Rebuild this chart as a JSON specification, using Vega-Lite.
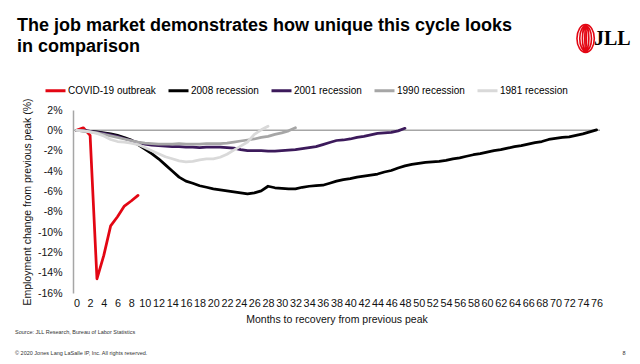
{
  "$schema": "https://vega.github.io/schema/vega-lite/v6.json",
  "width": 527,
  "height": 183,
  "autosize": {"type": "none"},
  "padding": {"left": 73, "top": 110, "right": 40, "bottom": 71},
  "background": "white",
  "config": {
    "view": {"stroke": null},
    "font": "Liberation Sans",
    "axis": {"labelOverlap": false, "labelBound": false, "labelFlush": false, "ticks": false, "grid": false}
  },
  "title": {
    "text": ["The job market demonstrates how unique this cycle looks", "in comparison"],
    "anchor": "start",
    "frame": "group",
    "dx": -56,
    "dy": 55,
    "offset": 20,
    "fontSize": 18,
    "fontWeight": "bold",
    "font": "Liberation Sans",
    "lineHeight": 21,
    "color": "#000000"
  },
  "datasets": {
    "jobs": [
      {"s": "COVID-19 outbreak", "m": 0, "v": 0},
      {"s": "COVID-19 outbreak", "m": 1, "v": 0.25},
      {"s": "COVID-19 outbreak", "m": 2, "v": -0.5},
      {"s": "COVID-19 outbreak", "m": 3, "v": -14.6},
      {"s": "COVID-19 outbreak", "m": 4, "v": -12.3},
      {"s": "COVID-19 outbreak", "m": 5, "v": -9.4},
      {"s": "COVID-19 outbreak", "m": 6, "v": -8.5},
      {"s": "COVID-19 outbreak", "m": 7, "v": -7.45},
      {"s": "COVID-19 outbreak", "m": 8, "v": -6.95},
      {"s": "COVID-19 outbreak", "m": 9, "v": -6.4},

      {"s": "2008 recession", "m": 0, "v": 0},
      {"s": "2008 recession", "m": 1, "v": -0.05},
      {"s": "2008 recession", "m": 2, "v": -0.1},
      {"s": "2008 recession", "m": 3, "v": -0.15},
      {"s": "2008 recession", "m": 4, "v": -0.25},
      {"s": "2008 recession", "m": 5, "v": -0.35},
      {"s": "2008 recession", "m": 6, "v": -0.5},
      {"s": "2008 recession", "m": 7, "v": -0.7},
      {"s": "2008 recession", "m": 8, "v": -0.95},
      {"s": "2008 recession", "m": 9, "v": -1.4},
      {"s": "2008 recession", "m": 10, "v": -1.85},
      {"s": "2008 recession", "m": 11, "v": -2.3},
      {"s": "2008 recession", "m": 12, "v": -2.8},
      {"s": "2008 recession", "m": 13, "v": -3.4},
      {"s": "2008 recession", "m": 14, "v": -4.0},
      {"s": "2008 recession", "m": 15, "v": -4.6},
      {"s": "2008 recession", "m": 16, "v": -5.0},
      {"s": "2008 recession", "m": 17, "v": -5.2},
      {"s": "2008 recession", "m": 18, "v": -5.45},
      {"s": "2008 recession", "m": 19, "v": -5.6},
      {"s": "2008 recession", "m": 20, "v": -5.75},
      {"s": "2008 recession", "m": 21, "v": -5.85},
      {"s": "2008 recession", "m": 22, "v": -5.95},
      {"s": "2008 recession", "m": 23, "v": -6.05},
      {"s": "2008 recession", "m": 24, "v": -6.15},
      {"s": "2008 recession", "m": 25, "v": -6.25},
      {"s": "2008 recession", "m": 26, "v": -6.15},
      {"s": "2008 recession", "m": 27, "v": -5.95},
      {"s": "2008 recession", "m": 28, "v": -5.5},
      {"s": "2008 recession", "m": 29, "v": -5.65},
      {"s": "2008 recession", "m": 30, "v": -5.7},
      {"s": "2008 recession", "m": 31, "v": -5.75},
      {"s": "2008 recession", "m": 32, "v": -5.75},
      {"s": "2008 recession", "m": 33, "v": -5.6},
      {"s": "2008 recession", "m": 34, "v": -5.5},
      {"s": "2008 recession", "m": 35, "v": -5.45},
      {"s": "2008 recession", "m": 36, "v": -5.4},
      {"s": "2008 recession", "m": 37, "v": -5.2},
      {"s": "2008 recession", "m": 38, "v": -5.0},
      {"s": "2008 recession", "m": 39, "v": -4.85},
      {"s": "2008 recession", "m": 40, "v": -4.75},
      {"s": "2008 recession", "m": 41, "v": -4.6},
      {"s": "2008 recession", "m": 42, "v": -4.5},
      {"s": "2008 recession", "m": 43, "v": -4.4},
      {"s": "2008 recession", "m": 44, "v": -4.3},
      {"s": "2008 recession", "m": 45, "v": -4.1},
      {"s": "2008 recession", "m": 46, "v": -3.95},
      {"s": "2008 recession", "m": 47, "v": -3.7},
      {"s": "2008 recession", "m": 48, "v": -3.5},
      {"s": "2008 recession", "m": 49, "v": -3.35},
      {"s": "2008 recession", "m": 50, "v": -3.25},
      {"s": "2008 recession", "m": 51, "v": -3.15},
      {"s": "2008 recession", "m": 52, "v": -3.1},
      {"s": "2008 recession", "m": 53, "v": -3.05},
      {"s": "2008 recession", "m": 54, "v": -2.95},
      {"s": "2008 recession", "m": 55, "v": -2.8},
      {"s": "2008 recession", "m": 56, "v": -2.7},
      {"s": "2008 recession", "m": 57, "v": -2.55},
      {"s": "2008 recession", "m": 58, "v": -2.4},
      {"s": "2008 recession", "m": 59, "v": -2.3},
      {"s": "2008 recession", "m": 60, "v": -2.15},
      {"s": "2008 recession", "m": 61, "v": -2.0},
      {"s": "2008 recession", "m": 62, "v": -1.9},
      {"s": "2008 recession", "m": 63, "v": -1.75},
      {"s": "2008 recession", "m": 64, "v": -1.6},
      {"s": "2008 recession", "m": 65, "v": -1.5},
      {"s": "2008 recession", "m": 66, "v": -1.35},
      {"s": "2008 recession", "m": 67, "v": -1.2},
      {"s": "2008 recession", "m": 68, "v": -1.1},
      {"s": "2008 recession", "m": 69, "v": -0.9},
      {"s": "2008 recession", "m": 70, "v": -0.8},
      {"s": "2008 recession", "m": 71, "v": -0.7},
      {"s": "2008 recession", "m": 72, "v": -0.65},
      {"s": "2008 recession", "m": 73, "v": -0.5},
      {"s": "2008 recession", "m": 74, "v": -0.35},
      {"s": "2008 recession", "m": 75, "v": -0.15},
      {"s": "2008 recession", "m": 76, "v": 0.05},

      {"s": "2001 recession", "m": 0, "v": 0},
      {"s": "2001 recession", "m": 1, "v": 0},
      {"s": "2001 recession", "m": 2, "v": -0.1},
      {"s": "2001 recession", "m": 3, "v": -0.2},
      {"s": "2001 recession", "m": 4, "v": -0.3},
      {"s": "2001 recession", "m": 5, "v": -0.45},
      {"s": "2001 recession", "m": 6, "v": -0.6},
      {"s": "2001 recession", "m": 7, "v": -0.8},
      {"s": "2001 recession", "m": 8, "v": -1.0},
      {"s": "2001 recession", "m": 9, "v": -1.2},
      {"s": "2001 recession", "m": 10, "v": -1.35},
      {"s": "2001 recession", "m": 11, "v": -1.45},
      {"s": "2001 recession", "m": 12, "v": -1.5},
      {"s": "2001 recession", "m": 13, "v": -1.55},
      {"s": "2001 recession", "m": 14, "v": -1.6},
      {"s": "2001 recession", "m": 15, "v": -1.6},
      {"s": "2001 recession", "m": 16, "v": -1.65},
      {"s": "2001 recession", "m": 17, "v": -1.65},
      {"s": "2001 recession", "m": 18, "v": -1.7},
      {"s": "2001 recession", "m": 19, "v": -1.65},
      {"s": "2001 recession", "m": 20, "v": -1.65},
      {"s": "2001 recession", "m": 21, "v": -1.65},
      {"s": "2001 recession", "m": 22, "v": -1.7},
      {"s": "2001 recession", "m": 23, "v": -1.75},
      {"s": "2001 recession", "m": 24, "v": -1.9},
      {"s": "2001 recession", "m": 25, "v": -2.0},
      {"s": "2001 recession", "m": 26, "v": -2.0},
      {"s": "2001 recession", "m": 27, "v": -2.0},
      {"s": "2001 recession", "m": 28, "v": -2.05},
      {"s": "2001 recession", "m": 29, "v": -2.05},
      {"s": "2001 recession", "m": 30, "v": -2.0},
      {"s": "2001 recession", "m": 31, "v": -1.95},
      {"s": "2001 recession", "m": 32, "v": -1.9},
      {"s": "2001 recession", "m": 33, "v": -1.8},
      {"s": "2001 recession", "m": 34, "v": -1.7},
      {"s": "2001 recession", "m": 35, "v": -1.6},
      {"s": "2001 recession", "m": 36, "v": -1.4},
      {"s": "2001 recession", "m": 37, "v": -1.2},
      {"s": "2001 recession", "m": 38, "v": -1.0},
      {"s": "2001 recession", "m": 39, "v": -0.95},
      {"s": "2001 recession", "m": 40, "v": -0.85},
      {"s": "2001 recession", "m": 41, "v": -0.7},
      {"s": "2001 recession", "m": 42, "v": -0.6},
      {"s": "2001 recession", "m": 43, "v": -0.45},
      {"s": "2001 recession", "m": 44, "v": -0.3},
      {"s": "2001 recession", "m": 45, "v": -0.25},
      {"s": "2001 recession", "m": 46, "v": -0.2},
      {"s": "2001 recession", "m": 47, "v": -0.05},
      {"s": "2001 recession", "m": 48, "v": 0.2},

      {"s": "1990 recession", "m": 0, "v": 0},
      {"s": "1990 recession", "m": 1, "v": -0.05},
      {"s": "1990 recession", "m": 2, "v": -0.15},
      {"s": "1990 recession", "m": 3, "v": -0.25},
      {"s": "1990 recession", "m": 4, "v": -0.4},
      {"s": "1990 recession", "m": 5, "v": -0.55},
      {"s": "1990 recession", "m": 6, "v": -0.7},
      {"s": "1990 recession", "m": 7, "v": -0.85},
      {"s": "1990 recession", "m": 8, "v": -1.0},
      {"s": "1990 recession", "m": 9, "v": -1.15},
      {"s": "1990 recession", "m": 10, "v": -1.25},
      {"s": "1990 recession", "m": 11, "v": -1.3},
      {"s": "1990 recession", "m": 12, "v": -1.35},
      {"s": "1990 recession", "m": 13, "v": -1.35},
      {"s": "1990 recession", "m": 14, "v": -1.35},
      {"s": "1990 recession", "m": 15, "v": -1.3},
      {"s": "1990 recession", "m": 16, "v": -1.35},
      {"s": "1990 recession", "m": 17, "v": -1.35},
      {"s": "1990 recession", "m": 18, "v": -1.35},
      {"s": "1990 recession", "m": 19, "v": -1.3},
      {"s": "1990 recession", "m": 20, "v": -1.3},
      {"s": "1990 recession", "m": 21, "v": -1.3},
      {"s": "1990 recession", "m": 22, "v": -1.25},
      {"s": "1990 recession", "m": 23, "v": -1.15},
      {"s": "1990 recession", "m": 24, "v": -1.05},
      {"s": "1990 recession", "m": 25, "v": -0.95},
      {"s": "1990 recession", "m": 26, "v": -0.85},
      {"s": "1990 recession", "m": 27, "v": -0.7},
      {"s": "1990 recession", "m": 28, "v": -0.6},
      {"s": "1990 recession", "m": 29, "v": -0.4},
      {"s": "1990 recession", "m": 30, "v": -0.25},
      {"s": "1990 recession", "m": 31, "v": -0.05},
      {"s": "1990 recession", "m": 32, "v": 0.25},

      {"s": "1981 recession", "m": 0, "v": 0},
      {"s": "1981 recession", "m": 1, "v": -0.05},
      {"s": "1981 recession", "m": 2, "v": -0.15},
      {"s": "1981 recession", "m": 3, "v": -0.3},
      {"s": "1981 recession", "m": 4, "v": -0.55},
      {"s": "1981 recession", "m": 5, "v": -0.9},
      {"s": "1981 recession", "m": 6, "v": -1.1},
      {"s": "1981 recession", "m": 7, "v": -1.15},
      {"s": "1981 recession", "m": 8, "v": -1.25},
      {"s": "1981 recession", "m": 9, "v": -1.4},
      {"s": "1981 recession", "m": 10, "v": -1.7},
      {"s": "1981 recession", "m": 11, "v": -2.0},
      {"s": "1981 recession", "m": 12, "v": -2.3},
      {"s": "1981 recession", "m": 13, "v": -2.6},
      {"s": "1981 recession", "m": 14, "v": -2.8},
      {"s": "1981 recession", "m": 15, "v": -3.0},
      {"s": "1981 recession", "m": 16, "v": -3.1},
      {"s": "1981 recession", "m": 17, "v": -3.05},
      {"s": "1981 recession", "m": 18, "v": -2.9},
      {"s": "1981 recession", "m": 19, "v": -2.8},
      {"s": "1981 recession", "m": 20, "v": -2.8},
      {"s": "1981 recession", "m": 21, "v": -2.65},
      {"s": "1981 recession", "m": 22, "v": -2.35},
      {"s": "1981 recession", "m": 23, "v": -1.95},
      {"s": "1981 recession", "m": 24, "v": -1.55},
      {"s": "1981 recession", "m": 25, "v": -1.15},
      {"s": "1981 recession", "m": 26, "v": -0.4},
      {"s": "1981 recession", "m": 27, "v": 0.05},
      {"s": "1981 recession", "m": 28, "v": 0.4}
    ]
  },
  "layer": [
    {
      "data": {"values": [{}]},
      "mark": {"type": "rule", "color": "#A6A6A6", "strokeWidth": 1.5},
      "encoding": {
        "y": {"datum": 0, "type": "quantitative"}
      }
    },
    {
      "data": {"name": "jobs"},
      "mark": {"type": "line", "strokeWidth": 2.75, "strokeJoin": "round", "strokeCap": "round"},
      "encoding": {
        "x": {
          "field": "m",
          "type": "quantitative",
          "scale": {"domain": [-0.5, 76.5], "nice": false, "zero": false},
          "axis": {
            "values": [0,2,4,6,8,10,12,14,16,18,20,22,24,26,28,30,32,34,36,38,40,42,44,46,48,50,52,54,56,58,60,62,64,66,68,70,72,74,76],
            "tickCount": 200,
            "format": "d",
            "title": "Months to recovery from previous peak",
            "domain": false,
            "ticks": false,
            "grid": false,
            "labelFontSize": 10.8,
            "labelPadding": 4,
            "labelOverlap": false,
            "labelColor": "#111111",
            "titleColor": "#111111",
            "titleFontSize": 10.5,
            "titleFontWeight": "normal",
            "titlePadding": 7
          }
        },
        "y": {
          "field": "v",
          "type": "quantitative",
          "scale": {"domain": [-16, 2], "nice": false, "zero": false},
          "axis": {
            "values": [-16,-14,-12,-10,-8,-6,-4,-2,0,2],
            "tickCount": 100,
            "labelExpr": "datum.value + '%'",
            "title": "Employment change from previous peak (%)",
            "grid": false,
            "ticks": false,
            "labelOverlap": false,
            "domainColor": "#A6A6A6",
            "domainWidth": 1.5,
            "labelPadding": 11,
            "labelFontSize": 10.5,
            "labelColor": "#111111",
            "titleColor": "#111111",
            "titleFontSize": 10.5,
            "titleFontWeight": "normal",
            "titlePadding": 5
          }
        },
        "color": {
          "field": "s",
          "type": "nominal",
          "sort": null,
          "scale": {
            "domain": ["COVID-19 outbreak", "2008 recession", "2001 recession", "1990 recession", "1981 recession"],
            "range": ["#E30613", "#000000", "#3C1A5B", "#A6A6A6", "#D9D9D9"]
          },
          "legend": {
            "orient": "none",
            "legendX": -29,
            "legendY": -31,
            "direction": "horizontal",
            "title": null,
            "symbolType": "stroke",
            "symbolSize": 400,
            "symbolStrokeWidth": 3,
            "labelFontSize": 10,
            "labelOffset": 1,
            "columnPadding": 6,
            "padding": 0,
            "labelColor": "#000000",
            "labelLimit": 0
          }
        }
      }
    },
    {
      "data": {"values": [{"note": "Source: JLL Research, Bureau of Labor Statistics"}]},
      "mark": {"type": "text", "align": "left", "baseline": "middle", "fontSize": 5.5, "color": "#333333"},
      "encoding": {
        "x": {"datum": -8.97, "type": "quantitative"},
        "y": {"datum": -19.84, "type": "quantitative"},
        "text": {"field": "note"}
      }
    },
    {
      "data": {"values": [{"note": "© 2020 Jones Lang LaSalle IP, Inc. All rights reserved."}]},
      "mark": {"type": "text", "align": "left", "baseline": "middle", "fontSize": 5.5, "color": "#333333"},
      "encoding": {
        "x": {"datum": -8.97, "type": "quantitative"},
        "y": {"datum": -21.9, "type": "quantitative"},
        "text": {"field": "note"}
      }
    },
    {
      "data": {"values": [{"note": "8"}]},
      "mark": {"type": "text", "align": "center", "baseline": "middle", "fontSize": 5.5, "color": "#333333"},
      "encoding": {
        "x": {"datum": 80.0, "type": "quantitative"},
        "y": {"datum": -21.9, "type": "quantitative"},
        "text": {"field": "note"}
      }
    },
    {
      "data": {"values": [{"brand": "JLL"}]},
      "mark": {
        "type": "point",
        "shape": "M -0.62,0 A 0.62,1 0 1,0 0.62,0 A 0.62,1 0 1,0 -0.62,0 Z M -0.42,0 A 0.42,0.9 0 1,0 0.42,0 A 0.42,0.9 0 1,0 -0.42,0 Z M -0.23,0 A 0.23,0.8 0 1,0 0.23,0 A 0.23,0.8 0 1,0 -0.23,0 Z M -0.06,0 A 0.06,0.7 0 1,0 0.06,0 A 0.06,0.7 0 1,0 -0.06,0 Z",
        "size": 784,
        "filled": false,
        "stroke": "#E30613",
        "strokeWidth": 1.6,
        "opacity": 1
      },
      "encoding": {
        "x": {"datum": 74.4, "type": "quantitative"},
        "y": {"datum": 9.03, "type": "quantitative"}
      }
    },
    {
      "data": {"values": [{"brand": "JLL"}]},
      "mark": {"type": "text", "align": "center", "baseline": "middle", "fontSize": 20, "font": "Liberation Serif", "fontWeight": "bold", "color": "#000000"},
      "encoding": {
        "x": {"datum": 78.3, "type": "quantitative"},
        "y": {"datum": 9.03, "type": "quantitative"},
        "text": {"field": "brand"}
      }
    }
  ]
}
